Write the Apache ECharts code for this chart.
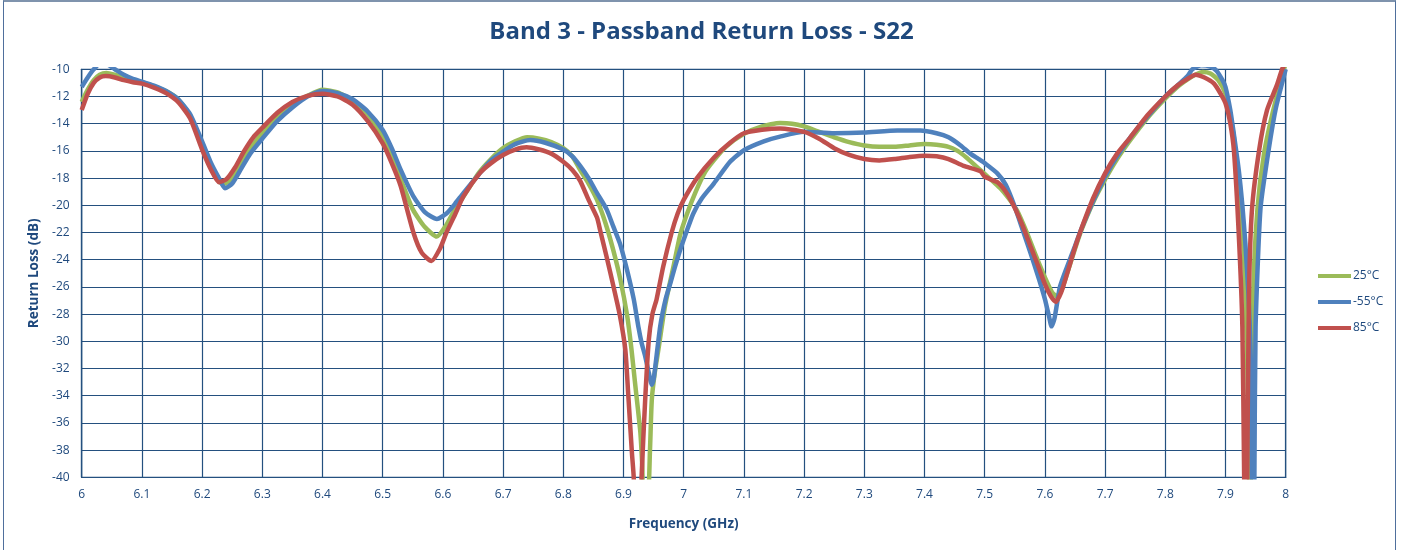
<!DOCTYPE html>
<html><head><meta charset="utf-8">
<script src="https://cdn.jsdelivr.net/npm/echarts@6/dist/echarts.min.js"></script>
<style>
html,body{margin:0;padding:0;background:#fff;}
#frame{position:absolute;left:3px;top:0;width:1393px;height:560px;border-left:1.5px solid #4f6f9c;border-right:1.5px solid #4f6f9c;border-top:2px solid #7f93ad;box-sizing:border-box;}
#chart{position:absolute;left:0;top:0;width:1403px;height:550px;}
</style></head>
<body>
<div id="frame"></div>
<div id="chart"></div>
<script>
const title = "Band 3 - Passband Return Loss - S22";
const seriesNames = ["25°C", "-55°C", "85°C"];
const xTicks = {min: 6, max: 8, step: 0.1};
const yTicks = {min: -40, max: -10, step: 2};

const freq25 = [6.000,6.010,6.020,6.030,6.041,6.055,6.070,6.085,6.100,6.120,6.140,6.160,6.180,6.200,6.215,6.225,6.235,6.245,6.260,6.280,6.300,6.325,6.350,6.375,6.400,6.425,6.450,6.475,6.500,6.515,6.530,6.550,6.570,6.590,6.605,6.620,6.635,6.660,6.680,6.700,6.720,6.740,6.760,6.780,6.800,6.815,6.828,6.842,6.856,6.870,6.883,6.895,6.906,6.913,6.919,6.924,6.928,6.931,6.934,6.940,6.944,6.947,6.952,6.958,6.969,6.983,6.994,7.005,7.020,7.035,7.050,7.070,7.100,7.130,7.160,7.180,7.200,7.225,7.250,7.275,7.300,7.325,7.350,7.375,7.400,7.420,7.440,7.455,7.470,7.485,7.500,7.515,7.526,7.540,7.554,7.570,7.585,7.600,7.612,7.620,7.628,7.637,7.650,7.660,7.680,7.700,7.720,7.742,7.770,7.800,7.820,7.837,7.850,7.862,7.875,7.888,7.900,7.906,7.914,7.919,7.925,7.931,7.936,7.939,7.940,7.941,7.942,7.946,7.953,7.964,7.978,7.997,8.000];
const val25 = [-12.4,-11.5,-10.8,-10.4,-10.27,-10.4,-10.6,-10.8,-10.95,-11.25,-11.6,-12.2,-13.4,-15.7,-17.3,-18.1,-18.45,-18.2,-17.2,-15.8,-14.7,-13.5,-12.6,-11.95,-11.5,-11.7,-12.3,-13.3,-14.95,-16.4,-18.1,-20.3,-21.6,-22.3,-21.5,-20.3,-19.3,-17.6,-16.6,-15.8,-15.3,-15.0,-15.1,-15.35,-15.8,-16.4,-17.4,-18.4,-19.6,-21.3,-23.3,-25.5,-28.1,-30.5,-33.0,-35.0,-36.7,-39,-42,-42,-38,-34.3,-32.3,-30.6,-27.4,-24.5,-22.2,-20.7,-19.0,-17.6,-16.7,-15.7,-14.75,-14.2,-13.95,-14.0,-14.2,-14.6,-15.0,-15.35,-15.6,-15.7,-15.7,-15.6,-15.5,-15.55,-15.7,-16.0,-16.5,-17.1,-17.7,-18.3,-18.75,-19.5,-20.4,-22.0,-23.7,-25.3,-26.4,-26.7,-26.2,-25.0,-23.2,-21.9,-19.8,-18.1,-16.6,-15.2,-13.6,-12.15,-11.3,-10.75,-10.4,-10.2,-10.3,-10.8,-11.8,-13.0,-15.0,-17.9,-20.5,-24.0,-31.4,-40,-42,-42,-40,-26.5,-20.3,-16.2,-13.25,-10,-9.6];

const freqM55 = [6.000,6.010,6.020,6.030,6.040,6.055,6.070,6.085,6.100,6.120,6.140,6.160,6.180,6.200,6.215,6.228,6.238,6.250,6.265,6.280,6.300,6.325,6.350,6.375,6.400,6.425,6.450,6.475,6.500,6.515,6.530,6.551,6.570,6.590,6.606,6.620,6.634,6.662,6.680,6.700,6.720,6.745,6.770,6.800,6.815,6.828,6.842,6.856,6.872,6.883,6.894,6.905,6.917,6.925,6.930,6.936,6.942,6.947,6.950,6.953,6.961,6.970,6.978,6.985,6.994,7.005,7.016,7.030,7.050,7.077,7.100,7.133,7.160,7.200,7.250,7.300,7.355,7.393,7.420,7.440,7.460,7.476,7.490,7.500,7.521,7.535,7.549,7.563,7.576,7.590,7.600,7.607,7.611,7.616,7.625,7.637,7.650,7.660,7.680,7.700,7.720,7.742,7.770,7.800,7.820,7.837,7.845,7.860,7.875,7.885,7.895,7.900,7.908,7.914,7.922,7.928,7.933,7.938,7.942,7.944,7.945,7.947,7.948,7.950,7.958,7.969,7.983,8.000];
const valM55 = [-11.3,-10.6,-10.0,-9.6,-9.6,-10.0,-10.4,-10.7,-10.9,-11.2,-11.6,-12.2,-13.3,-15.3,-16.9,-18.0,-18.75,-18.4,-17.3,-16.2,-15.1,-13.8,-12.8,-12.0,-11.6,-11.75,-12.2,-13.1,-14.46,-15.8,-17.4,-19.35,-20.5,-21.0,-20.6,-19.9,-19.1,-17.6,-16.7,-16.05,-15.5,-15.2,-15.4,-15.9,-16.4,-17.1,-18.0,-19.1,-20.3,-21.55,-22.8,-24.6,-26.9,-29.0,-30.1,-31.1,-32.3,-33.2,-32.8,-31.8,-28.9,-26.9,-25.7,-24.6,-23.3,-21.9,-20.6,-19.5,-18.4,-16.8,-15.95,-15.3,-14.95,-14.6,-14.7,-14.65,-14.5,-14.5,-14.7,-15.0,-15.6,-16.2,-16.6,-16.9,-17.65,-18.5,-20.0,-21.8,-23.5,-25.4,-26.9,-28.2,-28.9,-28.3,-26.0,-24.5,-23.0,-21.8,-19.7,-17.9,-16.4,-15.0,-13.5,-12.0,-11.2,-10.5,-10.0,-9.7,-9.8,-10.1,-10.8,-11.3,-13.0,-14.8,-17.4,-20.0,-22.8,-26.5,-31.4,-40,-42,-42,-40,-28.9,-20.3,-16.7,-13.0,-10.0];

const freq85 = [6.000,6.010,6.020,6.030,6.040,6.055,6.070,6.085,6.100,6.120,6.140,6.160,6.180,6.200,6.215,6.228,6.240,6.255,6.270,6.285,6.300,6.325,6.350,6.375,6.400,6.425,6.450,6.475,6.500,6.515,6.530,6.551,6.565,6.581,6.595,6.606,6.620,6.634,6.662,6.680,6.700,6.720,6.739,6.760,6.780,6.800,6.815,6.828,6.842,6.856,6.861,6.872,6.883,6.894,6.903,6.908,6.914,6.917,6.918,6.929,6.930,6.936,6.942,6.948,6.955,6.966,6.980,6.990,7.000,7.022,7.050,7.077,7.100,7.130,7.160,7.200,7.225,7.250,7.275,7.300,7.325,7.350,7.375,7.400,7.420,7.440,7.465,7.493,7.500,7.521,7.535,7.549,7.563,7.576,7.590,7.600,7.610,7.618,7.627,7.637,7.650,7.660,7.680,7.700,7.720,7.742,7.770,7.800,7.820,7.837,7.850,7.865,7.881,7.892,7.900,7.908,7.914,7.922,7.928,7.931,7.932,7.935,7.936,7.939,7.944,7.956,7.969,7.985,7.994,8.000];
const val85 = [-13.0,-11.8,-11.0,-10.6,-10.5,-10.6,-10.8,-10.95,-11.05,-11.35,-11.75,-12.4,-13.6,-15.9,-17.4,-18.3,-18.1,-17.2,-16.0,-15.0,-14.3,-13.2,-12.4,-11.95,-11.8,-12.0,-12.6,-13.8,-15.45,-16.9,-18.6,-22.0,-23.5,-24.1,-23.2,-22.0,-20.7,-19.35,-17.6,-16.9,-16.3,-15.9,-15.73,-15.9,-16.2,-16.8,-17.4,-18.2,-19.6,-20.9,-21.8,-23.8,-25.9,-28.1,-30.6,-34.0,-38.2,-40,-42,-42,-40,-34.3,-29.9,-28.0,-26.9,-24.5,-22.0,-20.6,-19.6,-18.0,-16.5,-15.4,-14.7,-14.45,-14.35,-14.6,-15.1,-15.8,-16.3,-16.6,-16.7,-16.6,-16.45,-16.35,-16.4,-16.6,-17.1,-17.5,-17.9,-18.3,-19.0,-20.1,-21.5,-23.0,-24.6,-25.8,-26.7,-27.1,-26.4,-25.0,-23.1,-21.8,-19.5,-17.65,-16.2,-15.0,-13.4,-12.0,-11.2,-10.7,-10.4,-10.6,-11.05,-11.8,-12.5,-14.0,-16.0,-22.1,-28.9,-40,-42,-42,-40,-26.5,-20.3,-15.9,-13.0,-11.2,-10.0,-9.5];

const colors = ["#9BBB59", "#4F81BD", "#C0504D"];
const txt = "#1F497D";
const gridCol = "#24507F";

function pairs(f, v){ return f.map((x,i)=>[x, v[i]]); }
const seriesData = [pairs(freq25,val25), pairs(freqM55,valM55), pairs(freq85,val85)];

const chart = echarts.init(document.getElementById('chart'), null, {renderer:'canvas'});
chart.setOption({
  animation: false,
  backgroundColor: 'transparent',
  title: {text: title, left: 'center', top: 15,
    textStyle: {fontFamily: 'Open Sans', fontWeight: 'bold', fontSize: 24, color: txt}},
  legend: {orient: 'vertical', left: 1313, top: 265, itemWidth: 33, itemHeight: 4, itemGap: 14,
    icon: 'rect', data: seriesNames,
    textStyle: {fontFamily: 'Open Sans', fontSize: 12, color: txt, padding: [0,0,0,-3]}},
  grid: {left: 81.7, right: 117.3, top: 69.3, bottom: 72.7, show: true, borderColor: gridCol, borderWidth: 1.2, containLabel: false},
  xAxis: {type: 'value', min: xTicks.min, max: xTicks.max, interval: xTicks.step,
    name: 'Frequency (GHz)', nameLocation: 'middle', nameGap: 40,
    nameTextStyle: {fontFamily: 'Open Sans', fontWeight: 'bold', fontSize: 13.5, color: txt},
    axisLine: {show: true, lineStyle: {color: gridCol, width: 1.2}},
    axisTick: {show: false},
    axisLabel: {margin: 11, fontFamily: 'Open Sans', fontSize: 12, color: txt,
      formatter: v => String(+v.toFixed(1))},
    splitLine: {show: true, lineStyle: {color: gridCol, width: 1.2}}},
  yAxis: {type: 'value', min: yTicks.min, max: yTicks.max, interval: yTicks.step,
    name: 'Return Loss (dB)', nameLocation: 'middle', nameGap: 40, nameRotate: 90,
    nameTextStyle: {fontFamily: 'Open Sans', fontWeight: 'bold', fontSize: 13.5, color: txt},
    axisLine: {show: true, lineStyle: {color: gridCol, width: 1.2}},
    axisTick: {show: false},
    axisLabel: {margin: 12, fontFamily: 'Open Sans', fontSize: 12, color: txt},
    splitLine: {show: true, lineStyle: {color: gridCol, width: 1.2}}},
  series: seriesNames.map((n,i)=>({
    name: n, type: 'line', data: seriesData[i], showSymbol: false, symbol: 'none',
    clip: true, smooth: 0.2, lineStyle: {color: colors[i], width: 4.5}, itemStyle: {color: colors[i]},
    z: 2 + i
  }))
});
</script>
</body></html>
